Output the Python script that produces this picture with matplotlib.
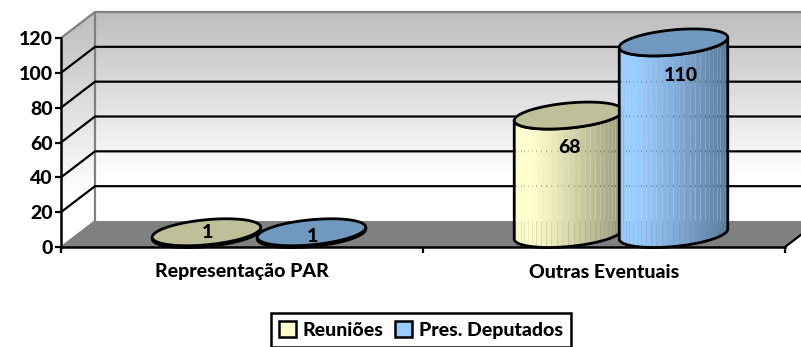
import numpy as np
import matplotlib; matplotlib.use("Agg")
import matplotlib.pyplot as plt
from matplotlib.patches import Polygon, Patch
from matplotlib.colors import to_rgb, LinearSegmentedColormap

categories = ["Representação PAR", "Outras Eventuais"]
reunioes = [1, 68]
deputados = [1, 110]
yticks = [0, 20, 40, 60, 80, 100, 120]
series_names = ["Reuniões", "Pres. Deputados"]

plt.rcParams["font.family"] = ["Lato", "DejaVu Sans"]
plt.rcParams["font.weight"] = 900
W, H = 801, 347
L, R, T, B = 61, 785, 38, 247
fig = plt.figure(figsize=(W / 100, H / 100), dpi=100)
ax = fig.add_axes([L / W, 1 - B / H, (R - L) / W, (B - T) / H])
ax.set_xlim(-.5, 1.5); ax.set_ylim(0, 120)
sx = (R - L) / 2; sy = (B - T) / 120       # px per data unit
DX, DY = 34 / sx, 26 / sy                  # depth of the 3d box, data units

# walls
grad = np.clip(np.linspace(0, 1, 200).reshape(-1, 1) / .78, 0, 1)
wall_cmap = LinearSegmentedColormap.from_list("w", ["#bdbdbd", "#ffffff"])
def wall(pts, extent):
    p = Polygon(pts, closed=True, fc="none", ec="none", transform=ax.transData, clip_on=False)
    ax.add_patch(p)
    im = ax.imshow(grad, extent=extent, aspect="auto", cmap=wall_cmap, origin="upper", zorder=.5)
    im.set_clip_box(fig.bbox)
    im.set_clip_path(p)
x0, x1 = -.5, 1.5
wall([(x0 + DX, DY), (x1 + DX, DY), (x1 + DX, 120 + DY), (x0 + DX, 120 + DY)], [x0 + DX, x1 + DX, DY, 120 + DY])
wall([(x0, 0), (x0 + DX, DY), (x0 + DX, 120 + DY), (x0, 120)], [x0, x0 + DX, 0, 120 + DY])
ax.set_xlim(x0, x1); ax.set_ylim(0, 120)
ax.add_patch(Polygon([(x0, 0), (x1, 0), (x1 + DX, DY), (x0 + DX, DY)], closed=True, fc="#808080", ec="none", zorder=.8, clip_on=False))
kw = dict(clip_on=False, solid_capstyle="butt")
ax.plot([x0, x0 + DX, x0 + DX], [120, 120 + DY, DY], color="#808080", lw=1.6, zorder=1, **kw)
ax.plot([x0 + DX, x1 + DX], [120 + DY] * 2, color="#808080", lw=1.6, zorder=1, **kw)
ax.plot([x0, x0 + DX], [0, DY], color="#808080", lw=1.2, zorder=1, **kw)
for v in yticks[1:-1]:
    ax.plot([x0, x0 + DX, x1 + DX], [v, v + DY, v + DY], color="black", lw=1.6, zorder=1.2, **kw)
ax.plot([x1, x1 + DX], [0, DY], color="black", lw=1.6, zorder=1.2, **kw)

# cylinders
A, BB, PHI = 54.5, 12.5, np.radians(5.5)
def ell(t, cx, cy):
    return (cx + (A * np.cos(t) * np.cos(PHI) - BB * np.sin(t) * np.sin(PHI)) / sx,
            cy + (A * np.cos(t) * np.sin(PHI) + BB * np.sin(t) * np.cos(PHI)) / sy)

def cylinder(cx, val, light, dark, lid, z):
    cy = 13 / sy
    t0 = np.arctan2(-BB * np.sin(PHI), A * np.cos(PHI))
    edges = np.linspace(t0 - np.pi, t0, 31)
    xl, xr = ell(t0 - np.pi, cx, cy)[0], ell(t0, cx, cy)[0]
    l, d = np.array(to_rgb(light)), np.array(to_rgb(dark))
    for a, b in zip(edges[:-1], edges[1:]):
        tt = np.linspace(a, b, 4)
        xb, yb = ell(tt, cx, cy); xt, yt = ell(tt[::-1], cx, cy + val)
        u = ((xb.mean() - xl) / (xr - xl))
        f = 0 if u < .15 else ((u - .15) / .85) ** 1.1
        ax.add_patch(Polygon(np.c_[np.r_[xb, xt], np.r_[yb, yt]], closed=True, fc=l + (d - l) * f, ec="none", zorder=z, clip_on=False))
    tt = np.linspace(t0 - np.pi, t0, 60)
    xb, yb = ell(tt, cx, cy); xt, yt = ell(tt[::-1], cx, cy + val)
    ax.add_patch(Polygon(np.c_[np.r_[xb, xt], np.r_[yb, yt]], closed=True, fc="none", ec="black", lw=2, zorder=z + .1, clip_on=False))
    xe, ye = ell(np.linspace(0, 2 * np.pi, 120), cx, cy + val)
    ax.add_patch(Polygon(np.c_[xe, ye], closed=True, fc=lid, ec="black", lw=2, zorder=z + .2, clip_on=False))
    return cy

centers = np.arange(len(categories)) + DX / 2
off = 52.5 / sx
lbl_off = {(0, 0): (1, 0), (0, 1): (1, -4), (1, 0): (1, -32), (1, 1): (7, -33)}
for i, c in enumerate(centers):
    for j, (vals, light, dark, lid) in enumerate([(reunioes, "#ffffcc", "#9a9a7a", "#bfbf99"), (deputados, "#99ccff", "#5b7b9c", "#7199bf")]):
        cx = c + (j * 2 - 1) * off
        cy = cylinder(cx, vals[i], light, dark, lid, 5 + i * 2 + j)
        ax.annotate(str(vals[i]), (cx, cy + vals[i]), xytext=lbl_off[(i, j)], textcoords="offset pixels", ha="center", va="center",
                    fontsize=14, zorder=20, annotation_clip=False)

# axes
for s in ["top", "right"]:
    ax.spines[s].set_visible(False)
for s in ["left", "bottom"]:
    ax.spines[s].set_linewidth(1.8)
ax.set_yticks(yticks)
ax.set_xticks([-.5, .5, 1.5]); ax.set_xticklabels([])
ax.tick_params(axis="both", width=1.6, length=4, labelsize=14, pad=2)
for i, c in enumerate(categories):
    ax.annotate(c, (i, 0), xytext=(0, -25), textcoords="offset pixels", ha="center", va="center", fontsize=14, annotation_clip=False)

h = [Patch(fc="#ffffcc", ec="black", lw=1.8), Patch(fc="#99ccff", ec="black", lw=1.8)]
leg = fig.legend(h, series_names, loc="center", bbox_to_anchor=(421 / W, 1 - 330 / H), ncol=2, fontsize=14, fancybox=False, framealpha=1,
                 edgecolor="black", handlelength=.85, handleheight=.85, handletextpad=.35, columnspacing=.6, borderpad=.45)
leg.get_frame().set_linewidth(1.8)
fig.savefig("out.png", dpi=100)
